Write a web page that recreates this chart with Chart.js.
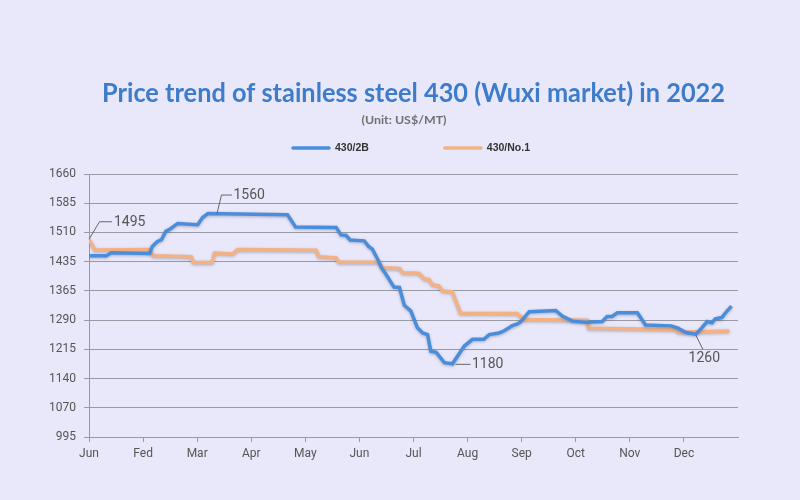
<!DOCTYPE html>
<html>
<head>
<meta charset="utf-8">
<script src="https://cdn.jsdelivr.net/npm/chart.js@4.4.0/dist/chart.umd.min.js"></script>
<style>
    html, body { margin: 0; padding: 0; background: #e9e8fb; }
    #wrap { width: 800px; height: 500px; }
</style>
</head>
<body>
<div id="wrap"><canvas id="priceChart" width="800" height="500"></canvas></div>
<script>
const titleText = 'Price trend of stainless steel 430 (Wuxi market) in 2022';
const subtitleText = '(Unit: US$/MT)';

// month tick labels (as printed on the original)
const monthLabels = ['Jun', 'Fed', 'Mar', 'Apr', 'May', 'Jun', 'Jul', 'Aug', 'Sep', 'Oct', 'Nov', 'Dec'];
const yTickLabels = ['995', '1070', '1140', '1215', '1290', '1365', '1435', '1510', '1585', '1660'];
const yMin = 995;
const yMax = 1660;

// 430/2B : position in months from the start, price US$/MT
const months2B = [0, 0.32, 0.41, 1.12, 1.17, 1.26, 1.34, 1.42, 1.50, 1.64, 2.01, 2.10, 2.20, 3.67, 3.82, 4.57, 4.66, 4.75, 4.83, 5.09,
    5.17, 5.24, 5.34, 5.40, 5.52, 5.64, 5.74, 5.83, 5.95, 6.07, 6.17, 6.26, 6.32, 6.42, 6.57, 6.72, 6.94, 7.09, 7.30, 7.40,
    7.58, 7.67, 7.83, 7.92, 7.98, 8.14, 8.63, 8.75, 8.94, 9.18, 9.49, 9.58, 9.67, 9.77, 10.14, 10.29, 10.76, 10.88, 11.04, 11.22,
    11.33, 11.43, 11.52, 11.58, 11.70, 11.78, 11.88];
const price2B = [1453, 1453, 1461, 1459, 1477, 1489, 1494, 1515, 1521, 1535, 1532, 1550, 1560, 1557, 1526, 1525, 1506, 1505, 1493, 1491,
    1477, 1470, 1444, 1425, 1400, 1374, 1373, 1328, 1314, 1272, 1258, 1254, 1212, 1209, 1183, 1180, 1225, 1242, 1242, 1254,
    1258, 1263, 1277, 1281, 1286, 1312, 1315, 1301, 1288, 1285, 1287, 1300, 1300, 1309, 1309, 1278, 1276, 1271, 1259, 1255,
    1271, 1287, 1284, 1294, 1297, 1311, 1326];

// 430/No.1
const monthsNo1 = [0, 0.11, 1.12, 1.19, 1.89, 1.93, 2.28, 2.32, 2.66, 2.75, 4.20, 4.25, 4.57, 4.62, 5.37, 5.43, 5.74, 5.80, 6.10, 6.20,
    6.29, 6.35, 6.47, 6.54, 6.72, 6.78, 6.87, 7.92, 8.04, 9.21, 9.24, 10.84, 10.90, 11.84];
const priceNo1 = [1495, 1468, 1469, 1453, 1451, 1436, 1436, 1460, 1458, 1469, 1467, 1451, 1448, 1437, 1437, 1423, 1421, 1410, 1409, 1395,
    1393, 1380, 1377, 1364, 1362, 1340, 1308, 1307, 1292, 1290, 1270, 1267, 1260, 1263];

// labelled points: [dataset index, point index, text]
const callouts = [[1, 0, '1495'], [0, 12, '1560'], [0, 35, '1180'], [0, 59, '1260']];

const blue = '#4a8edb';
const orange = '#f4b184';
const labelFont = 'Roboto, "Liberation Sans", sans-serif';
const titleFont = 'Lato, "Open Sans", sans-serif';

function toPoints(xs, ys) {
    return xs.map((x, i) => ({ x: x, y: ys[i] }));
}

// draw text squeezed/stretched to a given width, centred on cx
function fitText(ctx, text, cx, y, width) {
    const w = ctx.measureText(text).width;
    ctx.save();
    ctx.translate(cx, y);
    ctx.scale(width / w, 1);
    ctx.textAlign = 'center';
    ctx.fillText(text, 0, 0);
    ctx.restore();
}

// soft shadow under the lines
const lineShadow = {
    id: 'lineShadow',
    beforeDatasetDraw(chart) {
        const ctx = chart.ctx;
        ctx.save();
        ctx.shadowColor = 'rgba(60,60,80,0.35)';
        ctx.shadowBlur = 3;
        ctx.shadowOffsetY = 1;
    },
    afterDatasetDraw(chart) {
        chart.ctx.restore();
    }
};

// title, subtitle, legend row and callouts
const extras = {
    id: 'extras',
    afterDraw(chart) {
        const ctx = chart.ctx;
        const area = chart.chartArea;
        ctx.save();

        // title + subtitle
        ctx.textBaseline = 'alphabetic';
        ctx.fillStyle = '#3d7cca';
        ctx.font = 'bold 26px ' + titleFont;
        fitText(ctx, titleText, 413.5, 101.5, 623);
        ctx.fillStyle = '#707070';
        ctx.font = 'bold 11.5px ' + titleFont;
        fitText(ctx, subtitleText, 404, 124, 85);

        // legend
        ctx.font = 'bold 10.5px "Liberation Sans", Arial, sans-serif';
        const items = chart.data.datasets.map(ds => ({ text: ds.label, color: ds.borderColor, w: ctx.measureText(ds.label).width }));
        const box = 36, gap = 6, itemGap = 76;
        let total = 0;
        items.forEach((it, i) => { total += box + gap + it.w + (i > 0 ? itemGap : 0); });
        let x = (area.left + area.right) / 2 - total / 2 - 2;
        const ly = 148;
        items.forEach(it => {
            ctx.strokeStyle = it.color;
            ctx.lineWidth = 3.5;
            ctx.lineCap = 'round';
            ctx.beginPath();
            ctx.moveTo(x, ly);
            ctx.lineTo(x + box, ly);
            ctx.stroke();
            ctx.fillStyle = '#333';
            ctx.textBaseline = 'middle';
            ctx.textAlign = 'left';
            ctx.fillText(it.text, x + box + gap, ly + 0.5);
            x += box + gap + it.w + itemGap;
        });

        // callouts
        ctx.strokeStyle = '#666';
        ctx.lineWidth = 1;
        ctx.lineCap = 'butt';
        ctx.fillStyle = '#555';
        ctx.font = '14px ' + labelFont;
        ctx.textBaseline = 'middle';
        callouts.forEach(([d, i, text]) => {
            const p = chart.getDatasetMeta(d).data[i];
            ctx.beginPath();
            if (text === '1495') {
                ctx.moveTo(p.x, p.y);
                ctx.lineTo(p.x + 10.5, p.y - 17.5);
                ctx.lineTo(p.x + 23, p.y - 17.5);
                ctx.stroke();
                ctx.textAlign = 'left';
                ctx.fillText(text, p.x + 25, p.y - 17);
            } else if (text === '1560') {
                ctx.moveTo(p.x + 9, p.y);
                ctx.lineTo(p.x + 13.5, p.y - 18.5);
                ctx.lineTo(p.x + 24, p.y - 18.5);
                ctx.stroke();
                ctx.textAlign = 'left';
                ctx.fillText(text, p.x + 25.5, p.y - 18);
            } else if (text === '1180') {
                ctx.moveTo(p.x + 3, p.y + 0.5);
                ctx.lineTo(p.x + 18, p.y + 0.5);
                ctx.stroke();
                ctx.textAlign = 'left';
                ctx.fillText(text, p.x + 19.5, p.y + 1);
            } else {
                ctx.moveTo(p.x, p.y + 1);
                ctx.lineTo(p.x + 7, p.y + 15);
                ctx.stroke();
                ctx.textAlign = 'center';
                ctx.fillText(text, p.x + 8.5, p.y + 24);
            }
        });
        ctx.restore();
    }
};

const ctx = document.getElementById('priceChart').getContext('2d');

const chart = new Chart(ctx, {
    type: 'line',
    data: {
        datasets: [{
            label: '430/2B',
            data: toPoints(months2B, price2B),
            borderColor: blue,
            borderWidth: 3.5,
            pointRadius: 0,
            tension: 0
        }, {
            label: '430/No.1',
            data: toPoints(monthsNo1, priceNo1),
            borderColor: orange,
            borderWidth: 3.5,
            pointRadius: 0,
            tension: 0
        }]
    },
    options: {
        responsive: false,
        animation: false,
        layout: {
            // top space holds title, subtitle and legend (drawn by the plugin)
            padding: { top: 174, left: 0, right: 62, bottom: 33 }
        },
        plugins: {
            legend: { display: false },
            tooltip: { enabled: false },
            title: { display: false }
        },
        scales: {
            x: {
                type: 'linear',
                min: 0,
                max: 12,
                afterBuildTicks: (scale) => {
                    scale.ticks = monthLabels.map((m, i) => ({ value: i }));
                },
                afterFit: (scale) => { scale.height = 30; },
                ticks: {
                    color: '#555',
                    font: { family: labelFont, size: 12 },
                    padding: 5,
                    maxRotation: 0,
                    autoSkip: false,
                    callback: (value) => monthLabels[value] ?? ''
                },
                grid: { drawOnChartArea: false, tickLength: 5, color: '#9a9aa4' },
                border: { color: '#9a9aa4' }
            },
            y: {
                min: yMin,
                max: yMax,
                afterBuildTicks: (scale) => {
                    const step = (yMax - yMin) / (yTickLabels.length - 1);
                    scale.ticks = yTickLabels.map((t, i) => ({ value: yMin + i * step }));
                },
                afterFit: (scale) => { scale.width = 89; },
                ticks: {
                    color: '#555',
                    font: { family: labelFont, size: 12 },
                    padding: 8,
                    callback: (value, index) => yTickLabels[index]
                },
                grid: { color: '#9a9aa4', tickLength: 5 },
                border: { color: '#9a9aa4' }
            }
        }
    },
    plugins: [lineShadow, extras]
});
</script>
</body>
</html>
